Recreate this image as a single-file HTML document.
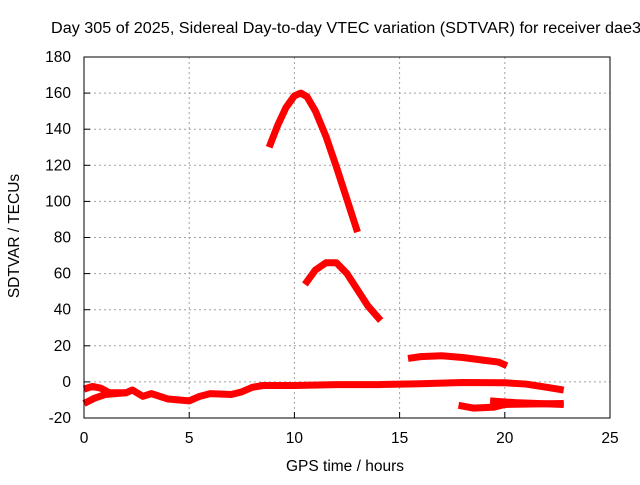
<!DOCTYPE html>
<html><head><meta charset="utf-8"><style>
body{margin:0;background:#fff}
svg text{font-family:"Liberation Sans",sans-serif;font-size:15.5px;fill:#000}
</style></head><body>
<svg width="640" height="480" id="c">
<text x="51" y="33" textLength="590" lengthAdjust="spacingAndGlyphs">Day 305 of 2025, Sidereal Day-to-day VTEC variation (SDTVAR) for receiver dae3</text>
<text x="345" y="471" text-anchor="middle">GPS time / hours</text>
<text transform="translate(19,236) rotate(-90)" text-anchor="middle">SDTVAR / TECUs</text>
<g id="grid"></g><g id="series"></g>
<rect x="84" y="57" width="526" height="361" fill="none" stroke="#000" stroke-width="1"/>
</svg>
<script>
const xTicks=[0,5,10,15,20,25];
const yTicks=[-20,0,20,40,60,80,100,120,140,160,180];
const arc1=[[8.8,130],[9.2,142],[9.6,152],[10,158.5],[10.3,160],[10.6,158],[11,150],[11.5,136],[12,119],[12.5,101],[13,83]];
const arc2=[[10.5,54],[11,62],[11.5,66],[12,66],[12.5,60],[13,51],[13.5,42],[14.1,34]];
const arc3=[[15.4,13],[16,14],[17,14.5],[18,13.5],[19,12],[19.7,11],[20.1,9]];
const mainArc=[[0,-4],[0.4,-2.5],[0.8,-3.5],[1.2,-6],[2,-6],[2.3,-4.5],[2.8,-8],[3.2,-6.5],[4,-9.5],[5,-10.5],[5.5,-8],[6,-6.5],[7,-7],[7.5,-5.5],[8,-3],[8.5,-2],[10,-2],[12,-1.5],[14,-1.5],[16,-1],[18,-0.3],[20,-0.5],[21,-1.2],[22,-3],[22.8,-4.5]];
const lowStart=[[0,-12],[0.5,-9],[1,-7],[2,-6]];
const lowRight=[[17.8,-13],[18.5,-14.5],[19.5,-14],[20,-12.5],[22.8,-12]];
const lowRight2=[[19.3,-10.5],[20.5,-11.5],[22.8,-12.5]];
const X=v=>84+v*526/25, Y=v=>418-(v+20)*361/200;
const ns='http://www.w3.org/2000/svg',svg=document.getElementById('c');
const g=document.getElementById('grid'),s=document.getElementById('series');
function mk(t,a,p){const e=document.createElementNS(ns,t);for(const k in a)e.setAttribute(k,a[k]);p.appendChild(e);return e;}
xTicks.forEach(v=>{
 if(v>0&&v<25){const l=mk('line',{x1:X(v),x2:X(v),y1:57,y2:418,stroke:'#a0a0a0','stroke-dasharray':'2,3'},g);
 }
 const t=mk('line',{x1:X(v),x2:X(v),y1:418,y2:412,stroke:'#000'},g);
 
 const tx=mk('text',{x:X(v),y:443,'text-anchor':'middle'},g);tx.textContent=v;
 
});
yTicks.forEach(v=>{
 if(v>-20&&v<180){const l=mk('line',{x1:84,x2:610,y1:Y(v),y2:Y(v),stroke:'#a0a0a0','stroke-dasharray':'2,3'},g);
 }
 const t=mk('line',{x1:84,x2:90,y1:Y(v),y2:Y(v),stroke:'#000'},g);
 
 const tx=mk('text',{x:71,y:Y(v)+5,'text-anchor':'end'},g);tx.textContent=v;
 
});
[arc1,arc2,arc3,mainArc,lowStart,lowRight,lowRight2].forEach(d=>{
 const p=mk('polyline',{points:d.map(q=>X(q[0])+','+Y(q[1])).join(' '),fill:'none',stroke:'#f00','stroke-width':7,'stroke-linejoin':'round','stroke-linecap':'butt'},s);
 
});
</script>
</body></html>
